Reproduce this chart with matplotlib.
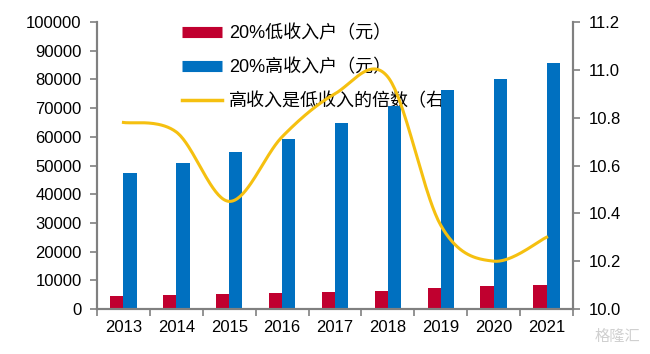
import matplotlib
matplotlib.use("Agg")
import matplotlib.pyplot as plt
import numpy as np
from matplotlib.lines import Line2D

plt.rcParams['font.family'] = ['Liberation Sans', 'Noto Sans CJK SC', 'DejaVu Sans']

years = ['2013', '2014', '2015', '2016', '2017', '2018', '2019', '2020', '2021']
low_income = [4402, 4747, 5221, 5529, 5958, 6440, 7380, 7869, 8333]
high_income = [47457, 50968, 54544, 59259, 64934, 70640, 76401, 80294, 85836]
ratio = [10.78, 10.74, 10.45, 10.72, 10.90, 10.97, 10.35, 10.20, 10.30]

label_low = '20%低收入户（元）'
label_high = '20%高收入户（元）'
label_ratio = '高收入是低收入的倍数（右）'

RED = '#C0002F'
BLUE = '#0070C0'
YELLOW = '#F5C010'
GRAY = '#808080'

fig = plt.figure(figsize=(6.5, 3.54), dpi=100)
ax = fig.add_axes([97/650, 1-309/354, 476/650, 287/354])
ax2 = ax.twinx()

x = np.arange(len(years))
w = 0.25
ax.bar(x - w/2, low_income, width=w, color=RED, zorder=2)
ax.bar(x + w/2, high_income, width=w, color=BLUE, zorder=2)

# smooth line (Catmull-Rom through data points, in pixel-like space)
sx, sy = 52.9, 239.2
px = x * sx
py = np.array(ratio) * sy
P = np.column_stack([px, py])
pts = []
n = len(P)
for i in range(n - 1):
    p0 = P[i - 1] if i > 0 else P[i]
    p1 = P[i]
    p2 = P[i + 1]
    p3 = P[i + 2] if i + 2 < n else P[i + 1]
    c1 = p1 + (p2 - p0) / 6
    c2 = p2 - (p3 - p1) / 6
    t = np.linspace(0, 1, 40)[:, None]
    seg = (1-t)**3 * p1 + 3*(1-t)**2*t*c1 + 3*(1-t)*t**2*c2 + t**3*p2
    pts.append(seg if i == 0 else seg[1:])
curve = np.vstack(pts)
ax2.plot(curve[:, 0] / sx, curve[:, 1] / sy, color=YELLOW, lw=2.2, zorder=3)

ax.set_xlim(-0.5, len(years) - 0.5)
ax.set_ylim(0, 100000)
ax.set_yticks(np.arange(0, 100001, 10000))
ax2.set_ylim(10.0, 11.2)
ax2.set_yticks(np.arange(10.0, 11.21, 0.2))
ax2.set_yticklabels([f'{v:.1f}' for v in np.arange(10.0, 11.21, 0.2)])

ax.set_xticks(x)
ax.set_xticklabels(years)
ax.set_xticks(np.arange(-0.5, len(years), 1), minor=True)
ax.tick_params(axis='x', which='major', length=0, pad=8, labelsize=12)
ax.tick_params(axis='x', which='minor', length=5, color=GRAY, width=1.2, direction='out')
ax.tick_params(axis='y', length=5, color=GRAY, width=1.2, labelsize=12, pad=6)
ax2.tick_params(axis='y', length=5, color=GRAY, width=1.2, labelsize=12, pad=6)

for a in (ax, ax2):
    a.spines['top'].set_visible(False)
    for s in ('left', 'right', 'bottom'):
        a.spines[s].set_color(GRAY)
        a.spines[s].set_linewidth(1.5)

handles = [Line2D([0], [0], color=RED, lw=8, solid_capstyle='butt'),
           Line2D([0], [0], color=BLUE, lw=8, solid_capstyle='butt'),
           Line2D([0], [0], color=YELLOW, lw=2.5)]
leg = ax.legend(handles, [label_low, label_high, label_ratio],
                loc='upper left', bbox_to_anchor=(0.145, 1.045), frameon=False,
                prop={'size': 13, 'family': ['Liberation Sans', 'Noto Sans CJK SC']},
                handlelength=2.2, handletextpad=0.4, labelspacing=0.9)
leg.set_zorder(0)

fig.text(0.985, 0.025, '格隆汇', ha='right', va='bottom', fontsize=11,
         color='#D0D0D0', family=['Noto Sans CJK SC', 'DejaVu Sans'])

fig.savefig('out.png', dpi=100)
